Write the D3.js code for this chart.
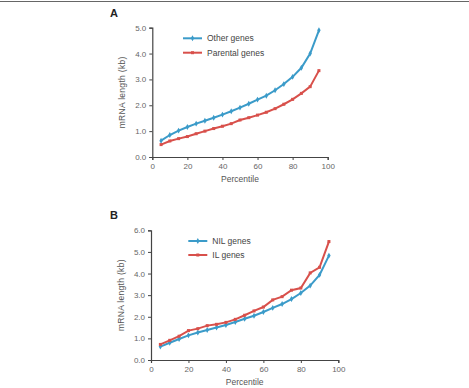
<!DOCTYPE html>
<html>
<head>
<meta charset="utf-8">
<script src="https://d3js.org/d3.v7.min.js"></script>
<style>
  body { margin: 0; background: #fff; }
  svg text { font-family: "Liberation Sans", Arial, sans-serif; }
</style>
</head>
<body>
<div id="vis"></div>
<script>
// percentiles shared by both panels
const percentiles = [5, 10, 15, 20, 25, 30, 35, 40, 45, 50, 55, 60, 65, 70, 75, 80, 85, 90, 95];

// panel A
const otherGenes    = [0.63, 0.85, 1.02, 1.16, 1.29, 1.40, 1.52, 1.64, 1.77, 1.91, 2.06, 2.22, 2.37, 2.58, 2.82, 3.10, 3.45, 4.00, 4.90];
const parentalGenes = [0.48, 0.62, 0.71, 0.79, 0.90, 1.00, 1.10, 1.19, 1.29, 1.43, 1.52, 1.62, 1.73, 1.87, 2.04, 2.23, 2.46, 2.72, 3.34];

// panel B
const nilGenes = [0.62, 0.80, 0.97, 1.14, 1.27, 1.39, 1.50, 1.62, 1.76, 1.91, 2.05, 2.22, 2.41, 2.59, 2.82, 3.10, 3.44, 3.94, 4.83];
const ilGenes  = [0.72, 0.91, 1.10, 1.36, 1.45, 1.59, 1.65, 1.74, 1.88, 2.07, 2.27, 2.45, 2.78, 2.93, 3.23, 3.33, 4.03, 4.29, 5.48];

const xTicks = [0, 20, 40, 60, 80, 100];
const yTicksA = [0, 1, 2, 3, 4, 5];
const yTicksB = [0, 1, 2, 3, 4, 5, 6];

const blue = "#3b9bc9", red = "#d8504b";

const svg = d3.select("#vis")
  .append("svg")
    .attr("width", 469)
    .attr("height", 388);

// frame line at top
svg.append("line")
  .attr("x1", 0).attr("x2", 469)
  .attr("y1", 1.5).attr("y2", 1.5)
  .attr("stroke", "#666").attr("stroke-width", 1.2);

function drawPanel(opt) {
  const x = d3.scaleLinear().domain([0, 100]).range([opt.left, opt.right]);
  const y = d3.scaleLinear().domain([0, opt.yMax]).range([opt.bottom, opt.top]);

  const g = svg.append("g");

  // x axis
  const xa = g.append("g")
    .attr("transform", "translate(0," + opt.bottom + ")")
    .call(d3.axisBottom(x).tickValues(xTicks).tickSize(3).tickPadding(3));
  // y axis
  const ya = g.append("g")
    .attr("transform", "translate(" + opt.left + ",0)")
    .call(d3.axisLeft(y).tickValues(opt.yTicks).tickSize(3).tickPadding(3).tickFormat(d3.format(".1f")));

  [xa, ya].forEach(a => {
    a.select(".domain").attr("stroke", "#444").attr("stroke-width", 1.2);
    a.selectAll(".tick line").attr("stroke", "#444");
    a.selectAll("text").attr("fill", "#666").style("font-size", "8px");
  });

  g.append("text")
    .attr("x", (opt.left + opt.right) / 2)
    .attr("y", opt.bottom + 25)
    .attr("text-anchor", "middle")
    .attr("fill", "#555")
    .style("font-size", "8.5px")
    .text("Percentile");

  g.append("text")
    .attr("transform", "translate(" + (opt.left - 27) + "," + ((opt.top + opt.bottom) / 2) + ") rotate(-90)")
    .attr("text-anchor", "middle")
    .attr("fill", "#555")
    .style("font-size", "8.5px")
    .style("letter-spacing", "0.3px")
    .text("mRNA length (kb)");

  g.append("text")
    .attr("x", opt.labelX).attr("y", opt.labelY)
    .attr("font-weight", "bold")
    .style("font-size", "11px")
    .attr("fill", "#222")
    .text(opt.label);

  const line = d3.line()
    .x((d, i) => x(percentiles[i]))
    .y(d => y(d));

  opt.series.forEach(s => {
    g.append("path")
      .datum(s.values)
      .attr("d", line)
      .attr("fill", "none")
      .attr("stroke", s.color)
      .attr("stroke-width", 2);

    if (s.shape === "square") {
      g.selectAll(null)
        .data(s.values)
        .enter()
        .append("rect")
        .attr("x", (d, i) => x(percentiles[i]) - 1.5)
        .attr("y", d => y(d) - 1.5)
        .attr("width", 3).attr("height", 3)
        .attr("fill", s.color);
    } else {
      g.selectAll(null)
        .data(s.values)
        .enter()
        .append("path")
        .attr("d", d3.symbol(d3.symbolDiamond, 10))
        .attr("transform", (d, i) => "translate(" + x(percentiles[i]) + "," + y(d) + ")")
        .attr("fill", s.color);
    }
  });

  // legend
  opt.series.forEach((s, i) => {
    const ly = opt.legendY + i * opt.legendGap;
    g.append("line")
      .attr("x1", opt.legendX).attr("x2", opt.legendX + 19)
      .attr("y1", ly).attr("y2", ly)
      .attr("stroke", s.color).attr("stroke-width", 2);
    if (s.shape === "square") {
      g.append("rect")
        .attr("x", opt.legendX + 9.5 - 1.5).attr("y", ly - 1.5)
        .attr("width", 3).attr("height", 3)
        .attr("fill", s.color);
    } else {
      g.append("path")
        .attr("d", d3.symbol(d3.symbolDiamond, 10))
        .attr("transform", "translate(" + (opt.legendX + 9.5) + "," + ly + ")")
        .attr("fill", s.color);
    }
    g.append("text")
      .attr("x", opt.legendX + 24).attr("y", ly + 3)
      .attr("fill", "#444")
      .style("font-size", "8.5px")
      .text(s.name);
  });
}

drawPanel({
  left: 152.3, right: 327.7, top: 27.7, bottom: 157, yMax: 5, yTicks: yTicksA,
  label: "A", labelX: 110, labelY: 17,
  legendX: 183, legendY: 38.3, legendGap: 14.4,
  series: [
    {name: "Other genes", values: otherGenes, color: blue, shape: "diamond"},
    {name: "Parental genes", values: parentalGenes, color: red, shape: "square"}
  ]
});

drawPanel({
  left: 151, right: 338.3, top: 230.3, bottom: 360, yMax: 6, yTicks: yTicksB,
  label: "B", labelX: 110, labelY: 219,
  legendX: 188.3, legendY: 241, legendGap: 14,
  series: [
    {name: "NIL genes", values: nilGenes, color: blue, shape: "diamond"},
    {name: "IL genes", values: ilGenes, color: red, shape: "square"}
  ]
});
</script>
</body>
</html>
